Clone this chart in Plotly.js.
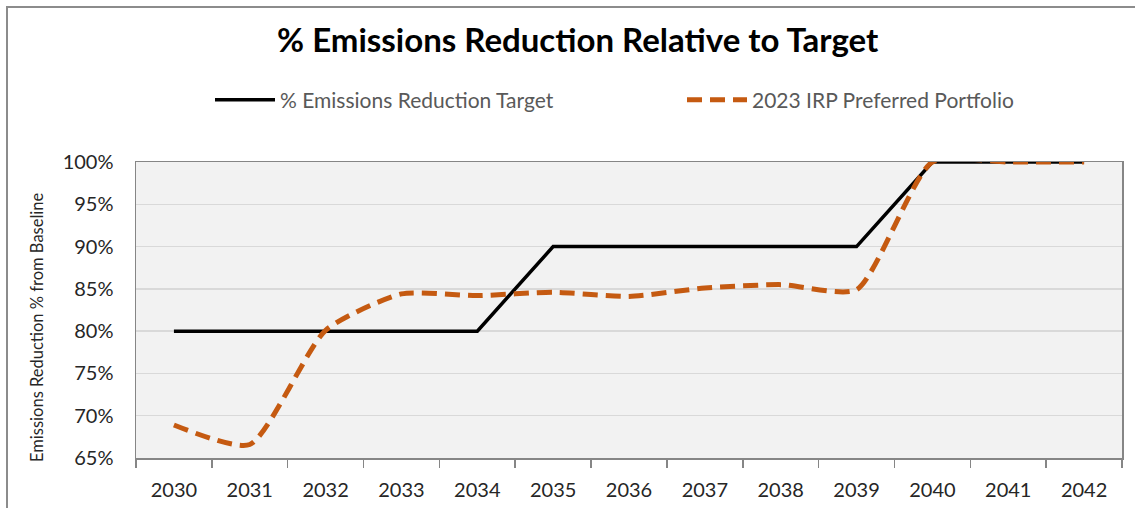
<!DOCTYPE html>
<html>
<head>
<meta charset="utf-8">
<script src="https://cdn.plot.ly/plotly-3.0.1.min.js"></script>
<style>
  html, body { margin: 0; padding: 0; background: #ffffff; }
  #wrap { position: relative; width: 1135px; height: 508px; }
  #chart { width: 1135px; height: 508px; }
  #frameTop { position: absolute; left: 6px; top: 6px; width: 1129px; height: 2px; background: #8c8c8c; }
  #frameLeft { position: absolute; left: 6px; top: 6px; width: 2px; height: 502px; background: #8c8c8c; }
</style>
</head>
<body>
<div id="wrap">
  <div id="chart"></div>
  <div id="frameTop"></div>
  <div id="frameLeft"></div>
</div>
<script>
// ---- data ----
const years = ["2030","2031","2032","2033","2034","2035","2036","2037","2038","2039","2040","2041","2042"];
const targetPct = [80, 80, 80, 80, 80, 90, 90, 90, 90, 90, 100, 100, 100];
const portfolioPct = [68.9, 66.6, 80.1, 84.4, 84.2, 84.6, 84.1, 85.1, 85.5, 84.9, 100, 100, 100];
const yTickVals = [65, 70, 75, 80, 85, 90, 95, 100];
const yTickText = ["65%", "70%", "75%", "80%", "85%", "90%", "95%", "100%"];
const seriesNames = ["% Emissions Reduction Target", "2023 IRP Preferred Portfolio"];
const chartTitle = "% Emissions Reduction Relative to Target";
const yTitle = "Emissions Reduction % from Baseline";

const FONT = "Lato, 'Open Sans', sans-serif";

const traces = [
  {
    x: years, y: targetPct, name: seriesNames[0], type: "scatter", mode: "lines",
    line: { color: "#000000", width: 3.5 },
    legend: "legend",
    cliponaxis: false
  },
  {
    x: years, y: portfolioPct, name: seriesNames[1], type: "scatter", mode: "lines",
    line: { color: "#c55a11", width: 5, dash: "15px,8px", shape: "spline", smoothing: 0.6 },
    legend: "legend2",
    cliponaxis: false
  }
];

const legendFont = { family: FONT, size: 21, color: "#595959" };

const layout = {
  width: 1135, height: 508,
  margin: { l: 136, r: 13, t: 162, b: 50 },
  paper_bgcolor: "#ffffff",
  plot_bgcolor: "#f2f2f2",
  font: { family: FONT, color: "#404040" },
  title: {
    text: "<b>" + chartTitle + "</b>",
    font: { family: FONT, size: 33, color: "#000000" },
    xref: "container", yref: "container",
    x: 0.509, xanchor: "center", y: 0.921, yanchor: "middle"
  },
  showlegend: true,
  legend: {
    orientation: "h",
    xref: "container", yref: "container",
    x: 210 / 1135, xanchor: "left",
    y: 1 - 100 / 508, yanchor: "middle",
    font: legendFont,
    itemwidth: 60,
    bgcolor: "rgba(0,0,0,0)"
  },
  legend2: {
    orientation: "h",
    xref: "container", yref: "container",
    x: 682 / 1135, xanchor: "left",
    y: 1 - 100 / 508, yanchor: "middle",
    font: legendFont,
    itemwidth: 60,
    bgcolor: "rgba(0,0,0,0)"
  },
  annotations: [
    {
      text: yTitle,
      xref: "paper", yref: "paper",
      x: (37 - 136) / 986, xanchor: "center",
      y: (458 - 328) / 296, yanchor: "middle",
      textangle: -90,
      showarrow: false,
      font: { family: FONT, size: 16.5, color: "#262626" }
    }
  ],
  xaxis: {
    type: "category",
    range: [-0.5, 12.5],
    tickson: "boundaries",
    ticks: "outside", ticklen: 8, tickwidth: 1.5, tickcolor: "#868686",
    showline: true, linecolor: "#868686", linewidth: 1.5, mirror: true,
    showgrid: false,
    tickfont: { family: FONT, size: 20, color: "#262626" },
    ticklabelstandoff: 13,
    fixedrange: true
  },
  yaxis: {
    range: [65, 100],
    tickvals: yTickVals, ticktext: yTickText,
    ticks: "",
    showline: true, linecolor: "#868686", linewidth: 1.5, mirror: true,
    showgrid: true, gridcolor: "#d9d9d9", gridwidth: 1.5,
    zeroline: false,
    tickfont: { family: FONT, size: 20, color: "#262626" },
    ticklabelstandoff: 17,
    fixedrange: true
  }
};

Plotly.newPlot("chart", traces, layout, { displayModeBar: false, staticPlot: true });
</script>
</body>
</html>
